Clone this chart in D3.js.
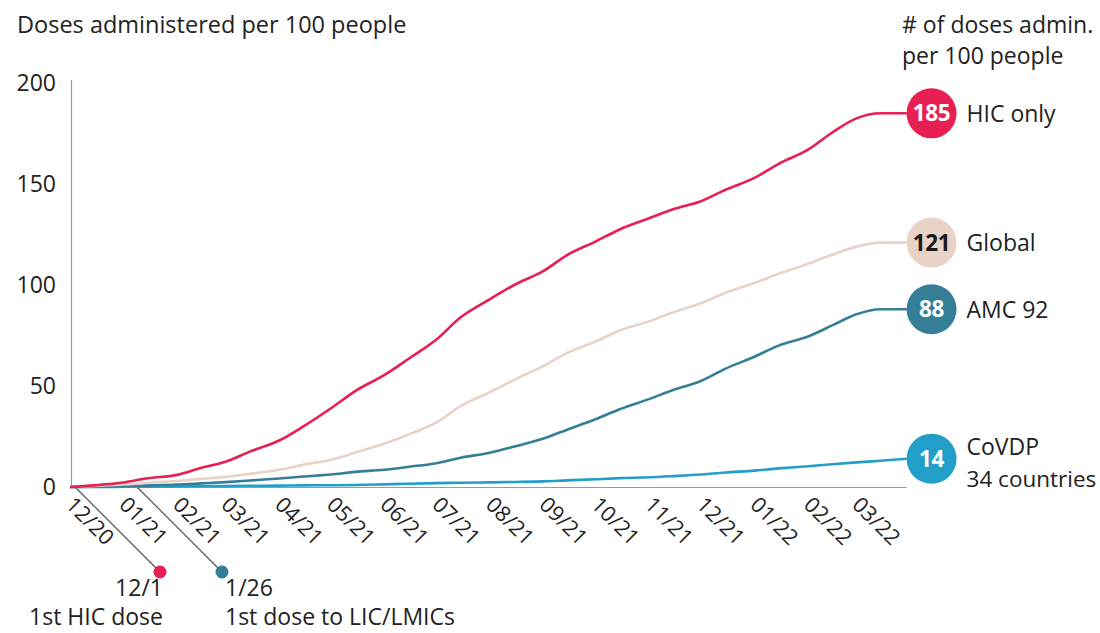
<!DOCTYPE html>
<html>
<head>
<meta charset="utf-8">
<script src="https://cdn.jsdelivr.net/npm/d3@7/dist/d3.min.js"></script>
<style>
  html, body { margin: 0; padding: 0; background: #fff; }
  svg { display: block; font-family: "Open Sans", "Noto Sans", sans-serif; }
</style>
</head>
<body>
<svg id="chart" width="1100" height="633"></svg>
<script>
// Semi-monthly sample dates, Dec 2020 – Apr 2022
const dates = [
  "2020-12-01","2020-12-15","2021-01-01","2021-01-15","2021-02-01","2021-02-15",
  "2021-03-01","2021-03-15","2021-04-01","2021-04-15","2021-05-01","2021-05-15",
  "2021-06-01","2021-06-15","2021-07-01","2021-07-15","2021-08-01","2021-08-15",
  "2021-09-01","2021-09-15","2021-10-01","2021-10-15","2021-11-01","2021-11-15",
  "2021-12-01","2021-12-15","2022-01-01","2022-01-15","2022-02-01","2022-02-15",
  "2022-03-01","2022-03-15","2022-03-30"
];

// Cumulative doses administered per 100 people
const hicOnly = [0,0.8,2.2,4.3,6,9.5,12.5,17.5,23,30,39,47.5,55.5,63.5,73,84,93,100,107,
  115,121.5,127.5,133,137.5,141.5,147,153,160,167,175.5,182.5,185,185];
const globalAll = [0,0.5,1.2,2,3,4,5,6.5,8.5,11,13.5,17,21.5,26,32,40,47,53,60,
  66.5,72,77.5,82,86.5,91,96,101,105.5,110.5,115,119,121,121];
const amc92 = [0,0.2,0.5,0.8,1.2,1.8,2.4,3.2,4.2,5.2,6.2,7.5,8.5,10,11.8,14.5,17,20,24,
  28.5,33.5,38.5,43.5,48,52.5,58.5,64.5,70,74.5,80,85.5,88,88];
const covdp = [0,0,0.1,0.2,0.3,0.4,0.5,0.6,0.7,0.8,0.9,1,1.3,1.6,1.9,2.1,2.3,2.5,2.8,
  3.3,3.8,4.4,4.8,5.4,6.2,7.2,8.1,9.2,10.3,11.3,12.2,13,14];

const seriesNames  = ["HIC only", "Global", "AMC 92", "CoVDP"];
const seriesSub    = ["", "", "", "34 countries"];
const seriesValues = [hicOnly, globalAll, amc92, covdp];
const endLabels    = ["185", "121", "88", "14"];
const seriesColors = ["#e71f53", "#e8d3c6", "#347e98", "#229fc9"];
const badgeText    = ["#ffffff", "#1a1a1a", "#ffffff", "#ffffff"];

const yTicks = [0, 50, 100, 150, 200];
const monthTicks = ["2020-12-01","2021-01-01","2021-02-01","2021-03-01","2021-04-01",
  "2021-05-01","2021-06-01","2021-07-01","2021-08-01","2021-09-01","2021-10-01",
  "2021-11-01","2021-12-01","2022-01-01","2022-02-01","2022-03-01"];

const callouts = [
  { date: "12/1", text: "1st HIC dose", color: "#e71f53" },
  { date: "1/26", text: "1st dose to LIC/LMICs", color: "#347e98" }
];

const parse = d3.timeParse("%Y-%m-%d");
const svg = d3.select("#chart");
const textColor = "#222";
const axisColor = "#9a9a9a";
const fontSize = 23;

const x = d3.scaleTime()
  .domain([parse("2020-12-01"), parse("2022-04-01")])
  .range([70, 910]);
const y = d3.scaleLinear().domain([0, 200]).range([487, 83]);

// Titles
svg.append("text").attr("x", 17).attr("y", 33)
  .attr("font-size", 23.5).attr("fill", textColor)
  .text("Doses administered per 100 people");
svg.append("text").attr("x", 902).attr("y", 33)
  .attr("font-size", fontSize).attr("fill", textColor).text("# of doses admin.");
svg.append("text").attr("x", 902).attr("y", 64)
  .attr("font-size", fontSize).attr("fill", textColor).text("per 100 people");

// Y axis
const yAxis = svg.append("g").attr("transform", "translate(71,0)")
  .call(d3.axisLeft(y).tickValues(yTicks).tickSize(0).tickPadding(15));
yAxis.select(".domain").attr("stroke", axisColor).attr("stroke-width", 1.2)
  .attr("d", `M0.5,${y(0)}V${y(200) - 3}`);
yAxis.selectAll("text").attr("font-size", fontSize).attr("fill", textColor)
  .attr("font-family", "'Open Sans', sans-serif");

// X axis
const xAxis = svg.append("g").attr("transform", `translate(0,${y(0)})`)
  .call(d3.axisBottom(x).tickValues(monthTicks.map(parse)).tickSize(0)
    .tickFormat(d3.timeFormat("%m/%y")));
xAxis.select(".domain").attr("stroke", axisColor).attr("stroke-width", 1.2)
  .attr("d", `M71,0.5H${x(parse("2022-03-30"))}`);
xAxis.selectAll("text")
  .attr("font-size", 21.5).attr("fill", textColor)
  .attr("font-family", "'Open Sans', sans-serif")
  .attr("text-anchor", "start")
  .attr("dy", null).attr("y", null)
  .attr("transform", "translate(-6,19) rotate(45)");

// Callouts below the axis
const calloutDotX = [160, 222];
const calloutDotY = 572;
callouts.forEach((c, i) => {
  const dx = calloutDotX[i];
  const run = calloutDotY - y(0);
  svg.append("line")
    .attr("x1", dx - run).attr("y1", y(0))
    .attr("x2", dx).attr("y2", calloutDotY)
    .attr("stroke", "#555").attr("stroke-width", 1.2);
  svg.append("circle").attr("cx", dx).attr("cy", calloutDotY).attr("r", 6.5)
    .attr("fill", c.color);
  const anchor = i === 0 ? "end" : "start";
  const tx = dx + 3;
  svg.append("text").attr("x", tx).attr("y", 596).attr("text-anchor", anchor)
    .attr("font-size", fontSize).attr("fill", textColor).text(c.date);
  svg.append("text").attr("x", tx).attr("y", 625).attr("text-anchor", anchor)
    .attr("font-size", fontSize).attr("fill", textColor).text(c.text);
});

// Lines (drawn back to front so HIC sits on top)
const line = d3.line().x(d => x(d[0])).y(d => y(d[1])).curve(d3.curveMonotoneX);
const dateObjs = dates.map(parse);
const order = [3, 2, 1, 0];
order.forEach(i => {
  const pts = dateObjs.map((d, k) => [d, seriesValues[i][k]]);
  svg.append("path").datum(pts)
    .attr("d", line)
    .attr("fill", "none")
    .attr("stroke", seriesColors[i])
    .attr("stroke-width", 2.6)
    .attr("stroke-linejoin", "round");
});

// End badges with values and series names
const lastDate = dateObjs[dateObjs.length - 1];
seriesValues.forEach((vals, i) => {
  const v = +endLabels[i];
  const cx = x(lastDate) + 25;
  const cy = y(v);
  svg.append("line").attr("x1", x(lastDate)).attr("x2", cx)
    .attr("y1", y(vals[vals.length - 1])).attr("y2", cy)
    .attr("stroke", seriesColors[i]).attr("stroke-width", 2.6);
  svg.append("circle").attr("cx", cx).attr("cy", cy).attr("r", 25)
    .attr("fill", seriesColors[i]);
  svg.append("text").attr("x", cx).attr("y", cy).attr("dy", "0.36em")
    .attr("text-anchor", "middle").attr("font-size", 22.5).attr("font-weight", 700)
    .attr("letter-spacing", -0.4)
    .attr("fill", badgeText[i]).text(endLabels[i]);
  if (seriesSub[i]) {
    svg.append("text").attr("x", cx + 35).attr("y", cy - 4)
      .attr("font-size", fontSize).attr("fill", textColor).text(seriesNames[i]);
    svg.append("text").attr("x", cx + 35).attr("y", cy + 28)
      .attr("font-size", 22.5).attr("fill", textColor).text(seriesSub[i]);
  } else {
    svg.append("text").attr("x", cx + 35).attr("y", cy).attr("dy", "0.36em")
      .attr("font-size", fontSize).attr("fill", textColor).text(seriesNames[i]);
  }
});
</script>
</body>
</html>
